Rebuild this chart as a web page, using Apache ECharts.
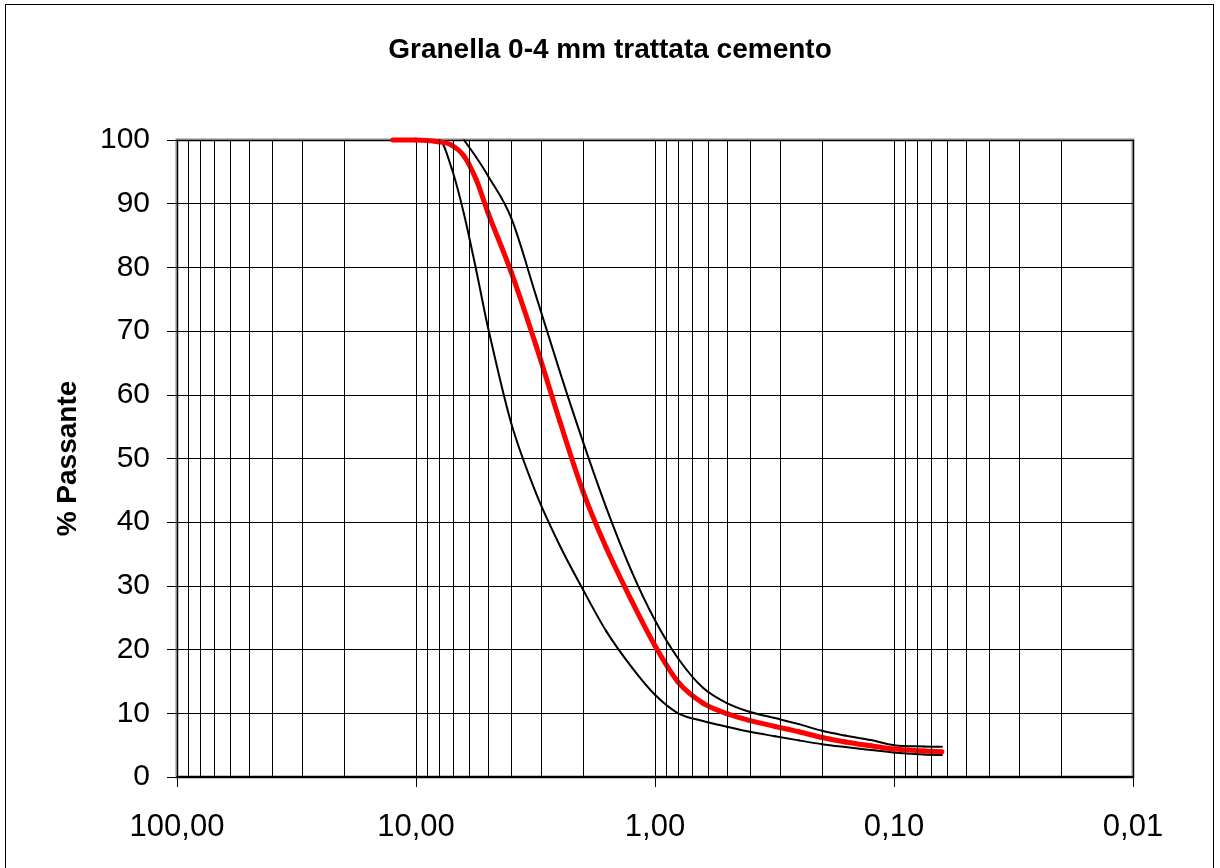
<!DOCTYPE html>
<html>
<head>
<meta charset="utf-8">
<script src="https://cdn.jsdelivr.net/npm/echarts@6/dist/echarts.min.js"></script>
<style>
  html, body { margin: 0; padding: 0; background: #fff; }
  #main { position: absolute; left: 0; top: 0; width: 1220px; height: 868px; }
  #frame { position: absolute; left: 5px; top: 4px; width: 1207px; height: 900px; border: 1px solid #000; pointer-events: none; }
</style>
</head>
<body>
<div id="main"></div>
<div id="frame"></div>
<script>
// setacci (mm) e % passante
var sieves = [12.5, 10, 8, 7.1, 6.3, 5.6, 5, 4, 3.15, 2.5, 2, 1.6, 1.25, 1, 0.8, 0.63, 0.5, 0.4, 0.315, 0.25, 0.2, 0.16, 0.125, 0.1, 0.075, 0.063];
var campione = [100, 100, 99.7, 99.2, 97.5, 93.8, 88.6, 79.3, 67.8, 55.8, 44.8, 36.0, 27.6, 20.6, 14.9, 11.6, 9.95, 8.85, 7.95, 7.1, 6.2, 5.5, 4.9, 4.4, 4.1, 3.95];
var fusoSup = [null, null, null, null, 100, 97.3, 94.4, 87.8, 75.6, 63.6, 52.6, 42.3, 32.2, 24.6, 18.6, 14.0, 11.6, 10.2, 9.25, 8.3, 7.25, 6.5, 5.8, 5.0, 4.8, 4.75];
var fusoInf = [100, 100, 100, 95.6, 88.4, 79.6, 70.6, 55.6, 44.6, 36.3, 29.4, 22.9, 17.2, 12.9, 10.0, 8.8, 7.9, 7.1, 6.4, 5.75, 5.15, 4.7, 4.25, 3.85, 3.55, 3.45];

var decades = [0.01, 0.1, 1, 10];

function pairs(vals) {
  var out = [];
  for (var i = 0; i < sieves.length; i++) {
    if (vals[i] != null) out.push([sieves[i], vals[i]]);
  }
  return out;
}

// linee verticali secondarie (2..9 per decade)
var minorLines = [];
decades.forEach(function (d) {
  for (var k = 2; k <= 9; k++) minorLines.push({ xAxis: +(k * d).toPrecision(3) });
});

// tangenti (differenze centrali, senza sovraelongazioni) sui punti in pixel
function tangents(pts) {
  var n = pts.length, m = [], s = [];
  for (var k = 0; k < n - 1; k++) {
    s[k] = (pts[k + 1][1] - pts[k][1]) / (pts[k + 1][0] - pts[k][0]);
  }
  for (k = 1; k < n - 1; k++) {
    if (s[k - 1] * s[k] <= 0) { m[k] = 0; continue; }
    var c = (pts[k + 1][1] - pts[k - 1][1]) / (pts[k + 1][0] - pts[k - 1][0]);
    var lim = 3 * Math.min(Math.abs(s[k - 1]), Math.abs(s[k]));
    m[k] = Math.max(-lim, Math.min(lim, c));
  }
  m[0] = n > 2 ? (3 * s[0] - m[1]) / 2 : s[0];
  m[n - 1] = n > 2 ? (3 * s[n - 2] - m[n - 2]) / 2 : s[n - 2];
  return m;
}

// curva levigata: un tratto di Bezier per ogni coppia di punti
function smoothCurve(name, data, color, width, z) {
  return {
    name: name,
    type: 'custom',
    coordinateSystem: 'cartesian2d',
    data: data,
    encode: { x: 0, y: 1 },
    clip: false,
    silent: true,
    z: z,
    renderItem: function (params, api) {
      var i = params.dataIndex;
      if (i >= data.length - 1) return null;
      var pts = data.map(function (d) { return api.coord(d); });
      var m = tangents(pts);
      var a = pts[i], b = pts[i + 1], h = b[0] - a[0];
      return {
        type: 'bezierCurve',
        shape: {
          x1: a[0], y1: a[1], x2: b[0], y2: b[1],
          cpx1: a[0] + h / 3, cpy1: a[1] + m[i] * h / 3,
          cpx2: b[0] - h / 3, cpy2: b[1] - m[i + 1] * h / 3
        },
        style: { stroke: color, lineWidth: width, fill: null, lineCap: 'round' }
      };
    }
  };
}

var font = '"Liberation Sans", Arial, sans-serif';
var chart = echarts.init(document.getElementById('main'));

var option = {
  backgroundColor: '#fff',
  animation: false,
  title: {
    text: 'Granella 0-4 mm trattata cemento',
    left: 'center',
    top: 31,
    textStyle: { fontFamily: font, fontSize: 28, fontWeight: 'bold', color: '#000' }
  },
  grid: {
    left: 177, right: 87, top: 140, bottom: 91,
    show: true, borderColor: '#868686', borderWidth: 3, backgroundColor: '#fff'
  },
  xAxis: {
    type: 'log',
    logBase: 10,
    min: 0.01,
    max: 100,
    inverse: true,
    axisLine: { onZero: false, lineStyle: { color: '#000', width: 2 } },
    axisTick: { show: true, inside: false, length: 10, lineStyle: { color: '#000', width: 1 } },
    axisLabel: {
      margin: 35, fontFamily: font, fontSize: 31, color: '#000',
      formatter: function (v) { return v.toFixed(2).replace('.', ','); }
    },
    splitLine: { show: true, lineStyle: { color: '#000', width: 1 } }
  },
  yAxis: {
    type: 'value',
    min: 0,
    max: 100,
    interval: 10,
    name: '% Passante',
    nameLocation: 'middle',
    nameGap: 95,
    nameTextStyle: { fontFamily: font, fontSize: 28, fontWeight: 'bold', color: '#000' },
    axisLine: { show: true, lineStyle: { color: '#000', width: 1 } },
    axisTick: { show: true, inside: false, length: 10, lineStyle: { color: '#000' } },
    axisLabel: { margin: 27, fontFamily: font, fontSize: 30, color: '#000' },
    splitLine: { show: true, lineStyle: { color: '#000', width: 1 } }
  },
  series: [
    {
      name: 'griglia',
      type: 'line',
      data: [],
      silent: true,
      markLine: {
        silent: true,
        symbol: ['none', 'none'],
        label: { show: false },
        lineStyle: { color: '#000', width: 1, type: 'solid' },
        data: minorLines
      }
    },
    smoothCurve('fuso inferiore', pairs(fusoInf), '#000', 2, 3),
    smoothCurve('fuso superiore', pairs(fusoSup), '#000', 2, 3),
    smoothCurve('campione', pairs(campione), '#ff0000', 5, 4)
  ]
};

chart.setOption(option);
</script>
</body>
</html>
